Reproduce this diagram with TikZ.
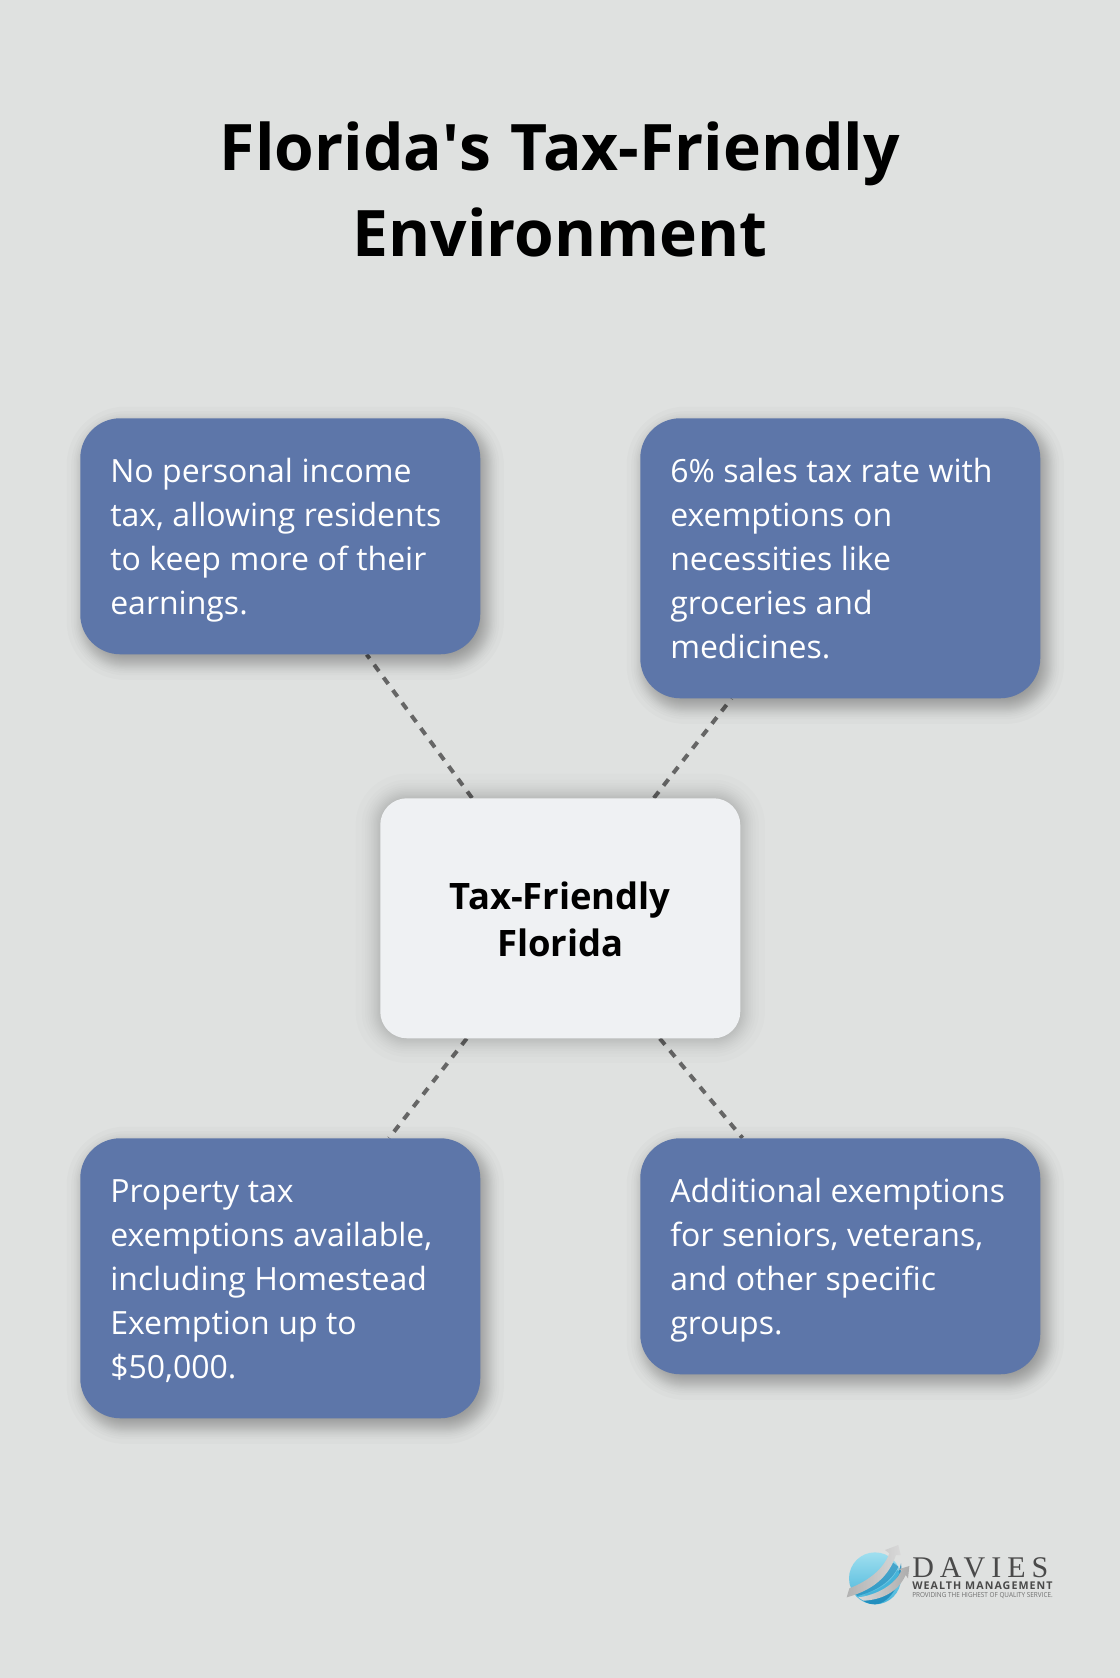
\documentclass[tikz,border=0pt]{standalone}
\usepackage{fontspec}
\setmainfont{Open Sans}
\newfontfamily\logoserif[LetterSpace=20]{Liberation Serif}
\newfontfamily\logosans[LetterSpace=10]{Open Sans}
\usetikzlibrary{calc}
\definecolor{pagebg}{HTML}{DFE1E0}
\definecolor{cardblue}{HTML}{5D76A9}
\definecolor{cardlight}{HTML}{EFF1F3}
\definecolor{linkgray}{HTML}{666666}
\definecolor{logogray}{HTML}{4A4A4A}
\definecolor{globelight}{HTML}{A0DFEF}
\definecolor{globemid}{HTML}{45B4DA}
\definecolor{globedark}{HTML}{1A86B8}
\pgfdeclarelayer{back}
\pgfdeclarelayer{shade}
\pgfsetlayers{back,shade,main}
\newcommand\bodystrut{\vrule height 25.8pt depth 0pt width 0pt}
\newcommand\bodyend{\vrule height 0pt depth 7.2pt width 0pt}
\newcommand\straightquote{\XeTeXglyph\XeTeXcharglyph"27\relax}
\newcommand\bodyspacing{\spaceskip=6.4pt\relax}
\tikzset{
  bluecard/.style={rounded corners=30pt, fill=cardblue, text=white, minimum width=300pt,
    text width=255pt, inner xsep=22.5pt, inner ysep=0pt, align=left, anchor=north west,
    font=\fontsize{24pt}{33pt}\selectfont, execute at begin node=\bodyspacing},
  hubcard/.style={rounded corners=20pt, fill=cardlight, text=black, minimum width=270pt,
    minimum height=180pt, align=center, inner sep=0pt, anchor=north west,
    font=\fontsize{27.3pt}{35.5pt}\selectfont\bfseries\addfontfeature{Kerning=Off}},
  titletext/.style={align=center, inner sep=0pt, text=black,
    font=\fontsize{48.1pt}{64.5pt}\selectfont\bfseries\addfontfeature{Kerning=Off}},
  linkline/.style={draw=linkgray, line width=3pt, dash pattern=on 6pt off 5.8pt},
}
% #1 node, #2 dx, #3 dy (px), #4 sigma (px), #5 per-step opacity, #6 corner radius (px)
\newcommand\softshade[6]{%
  \begin{pgfonlayer}{shade}
  \foreach \k in {-2.037,-1.534,-1.259,-1.055,-0.887,-0.741,-0.610,-0.489,-0.374,-0.264,-0.157,-0.052,
                  0.052,0.157,0.264,0.374,0.489,0.610,0.741,0.887,1.055,1.259,1.534,2.037}{%
    \pgfmathsetmacro\spr{#4*\k}%
    \pgfmathsetmacro\rad{max(#6+\spr,2)*0.75}%
    \fill[black, opacity=#5, rounded corners=\rad pt]
      ($(#1.south west)+(#2-\spr,#3+\spr)$) rectangle ($(#1.north east)+(#2+\spr,#3-\spr)$);
  }%
  \end{pgfonlayer}%
}
\begin{document}
\begin{tikzpicture}[x=0.75pt,y=-0.75pt]
\useasboundingbox (0,0) rectangle (1120,1678);
\begin{pgfonlayer}{back}
  \fill[pagebg] (0,0) rectangle (1120,1678);
\end{pgfonlayer}

\node[titletext] (title) at (560,189.5) {Florida\straightquote s\hspace{2.2pt} Tax-Friendly\\Environment};

\node[bluecard, minimum height=177pt] (nw) at (80,418)
  {\bodystrut No personal income\\tax, allowing residents\\to keep more of their\\earnings.\bodyend};
\node[bluecard, minimum height=210pt] (ne) at (640,418)
  {\bodystrut 6\% sales tax rate with\\exemptions on\\necessities like\\groceries and\\medicines.\bodyend};
\node[bluecard, minimum height=210pt] (sw) at (80,1138)
  {\bodystrut Property tax\\exemptions available,\\including Homestead\\Exemption up to\\\$50,000.\bodyend};
\node[bluecard, minimum height=177pt] (se) at (640,1138)
  {\bodystrut Additional exemptions\\for seniors, veterans,\\and other specific\\groups.\bodyend};
\node[hubcard] (hub) at (380,798) {\vrule height 22.5pt depth 0pt width 0pt Tax-Friendly\\Florida};

\begin{pgfonlayer}{back}
  \draw[linkline] (hub) -- (nw);
  \draw[linkline] (hub) -- (ne);
  \draw[linkline] (hub) -- (sw);
  \draw[linkline] (hub) -- (se);
\end{pgfonlayer}

\softshade{nw}{5}{7}{9}{0.016}{40}
\softshade{ne}{5}{7}{9}{0.016}{40}
\softshade{sw}{5}{7}{9}{0.016}{40}
\softshade{se}{5}{7}{9}{0.016}{40}
\softshade{hub}{0}{0}{12}{0.011}{27}

% logo
\begin{scope}[shift={(820,1520)},x=0.25pt,y=-0.25pt]
  \shade[top color=globelight, bottom color=globemid] (165,175) circle[radius=78];
  \fill[globedark, opacity=0.8]
    (118,232) .. controls (170,228) and (230,195) .. (243,130)
    .. controls (250,175) and (215,250) .. (165,253) .. controls (145,253) and (130,245) .. (118,232) -- cycle;
  \fill[globemid]
    (135,222) .. controls (175,212) and (215,185) .. (232,150) -- (238,160) .. controls (220,195) and (180,220) .. (140,230) -- cycle;
  \fill[globedark, opacity=0.6]
    (100,212) .. controls (150,195) and (195,165) .. (215,125) -- (235,140) .. controls (215,185) and (165,215) .. (112,228) -- cycle;
  \shade[left color=gray!60, right color=gray!30]
    (80,232) .. controls (130,218) and (200,190) .. (228,105) -- (242,105) -- (235,75) -- (195,90) -- (208,100)
    .. controls (190,150) and (140,185) .. (88,205) -- cycle;
  \shade[left color=gray!30, right color=gray!65]
    (115,232) .. controls (170,225) and (225,195) .. (245,150) -- (235,148) -- (268,138) -- (264,175) -- (257,165)
    .. controls (235,215) and (185,240) .. (130,242) -- cycle;
\end{scope}
\node[anchor=base west, inner sep=0pt, text=logogray, font=\fontsize{22.5pt}{22pt}\logoserif] (logoname) at (912,1577) {DAVIES};
\node[anchor=base west, inner sep=0pt, text=logogray, font=\fontsize{8pt}{8pt}\logosans\bfseries] (logosub) at (912,1589) {WEALTH MANAGEMENT};
\node[anchor=base west, inner sep=0pt, text=logogray!80, font=\fontsize{5.2pt}{5pt}\selectfont] (logotag) at (912,1597.5) {\scalebox{0.92}[1]{PROVIDING THE HIGHEST OF QUALITY SERVICE.}};
\end{tikzpicture}
\end{document}
